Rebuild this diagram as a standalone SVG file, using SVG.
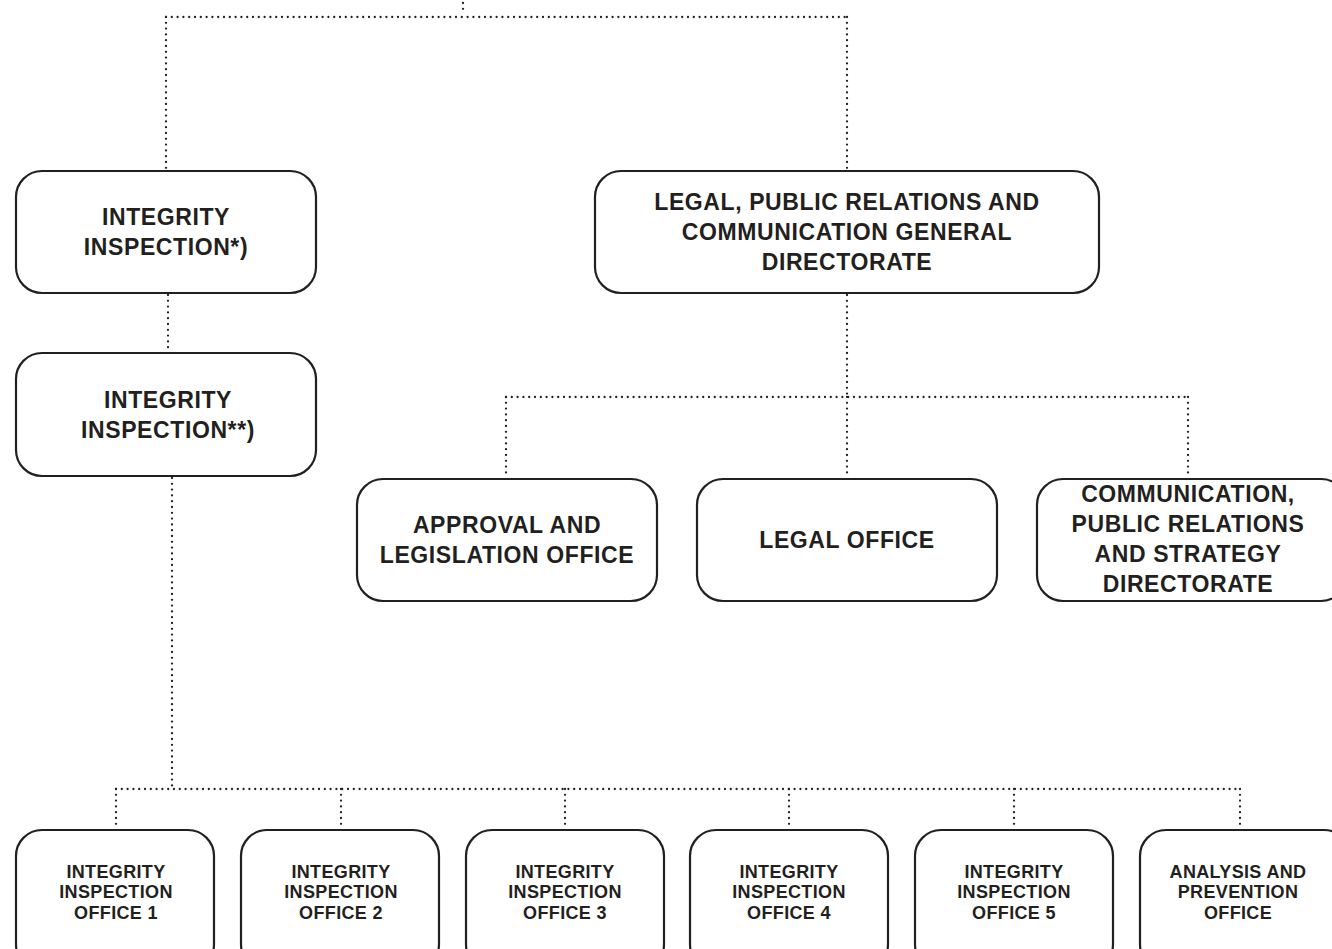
<svg xmlns="http://www.w3.org/2000/svg" width="1332" height="949" viewBox="0 0 1332 949">
<style>
.box{fill:#fff;stroke:#231f20;stroke-width:2.2}
.dot{fill:none;stroke:#231f20;stroke-width:2.3;stroke-linecap:round;stroke-dasharray:0 5.8}
.t{font-family:"Liberation Sans",Arial,sans-serif;font-weight:bold;fill:#231f20;text-anchor:middle}
.l{font-size:23px;letter-spacing:0.6px}
.s{font-size:18px;letter-spacing:0.35px}
</style>
<rect width="1332" height="949" fill="#fff"/>
<g id="connectors">
<path class="dot" d="M463 3V12"/>
<path class="dot" d="M166 17H847"/>
<path class="dot" d="M166 17V170"/>
<path class="dot" d="M847 17V171"/>
<path class="dot" d="M168 295V352"/>
<path class="dot" d="M847 295V397"/>
<path class="dot" d="M506 397H1188"/>
<path class="dot" d="M506 397V478"/>
<path class="dot" d="M847 397V478"/>
<path class="dot" d="M1188 397V478"/>
<path class="dot" d="M172 478V789"/>
<path class="dot" d="M116 789H1240"/>
<path class="dot" d="M116 789V829"/>
<path class="dot" d="M341 789V829"/>
<path class="dot" d="M565 789V829"/>
<path class="dot" d="M789 789V829"/>
<path class="dot" d="M1014 789V829"/>
<path class="dot" d="M1240 789V829"/>
</g>
<g id="n1"><rect class="box" x="16" y="171" width="300" height="122" rx="26"/>
<text class="t l" x="166" y="225">INTEGRITY</text><text class="t l" x="166" y="255">INSPECTION*)</text></g>
<g id="n2"><rect class="box" x="16" y="353" width="300" height="123" rx="26"/>
<text class="t l" x="168" y="408">INTEGRITY</text><text class="t l" x="168" y="438">INSPECTION**)</text></g>
<g id="n3"><rect class="box" x="595" y="171" width="504" height="122" rx="26"/>
<text class="t l" x="847" y="210">LEGAL, PUBLIC RELATIONS AND</text><text class="t l" x="847" y="240">COMMUNICATION GENERAL</text><text class="t l" x="847" y="270">DIRECTORATE</text></g>
<g id="n4"><rect class="box" x="357" y="479" width="300" height="122" rx="26"/>
<text class="t l" x="507" y="533">APPROVAL AND</text><text class="t l" x="507" y="563">LEGISLATION OFFICE</text></g>
<g id="n5"><rect class="box" x="697" y="479" width="300" height="122" rx="26"/>
<text class="t l" x="847" y="548">LEGAL OFFICE</text></g>
<g id="n6"><rect class="box" x="1037" y="479" width="310" height="122" rx="26"/>
<text class="t l" x="1188" y="502">COMMUNICATION,</text><text class="t l" x="1188" y="532">PUBLIC RELATIONS</text><text class="t l" x="1188" y="562">AND STRATEGY</text><text class="t l" x="1188" y="592">DIRECTORATE</text></g>
<g id="n7"><rect class="box" x="16" y="830" width="198" height="140" rx="26"/>
<text class="t s" x="116" y="878">INTEGRITY</text><text class="t s" x="116" y="898">INSPECTION</text><text class="t s" x="116" y="919">OFFICE 1</text></g>
<g id="n8"><rect class="box" x="241" y="830" width="198" height="140" rx="26"/>
<text class="t s" x="341" y="878">INTEGRITY</text><text class="t s" x="341" y="898">INSPECTION</text><text class="t s" x="341" y="919">OFFICE 2</text></g>
<g id="n9"><rect class="box" x="466" y="830" width="198" height="140" rx="26"/>
<text class="t s" x="565" y="878">INTEGRITY</text><text class="t s" x="565" y="898">INSPECTION</text><text class="t s" x="565" y="919">OFFICE 3</text></g>
<g id="n10"><rect class="box" x="690" y="830" width="198" height="140" rx="26"/>
<text class="t s" x="789" y="878">INTEGRITY</text><text class="t s" x="789" y="898">INSPECTION</text><text class="t s" x="789" y="919">OFFICE 4</text></g>
<g id="n11"><rect class="box" x="915" y="830" width="198" height="140" rx="26"/>
<text class="t s" x="1014" y="878">INTEGRITY</text><text class="t s" x="1014" y="898">INSPECTION</text><text class="t s" x="1014" y="919">OFFICE 5</text></g>
<g id="n12"><rect class="box" x="1140" y="830" width="210" height="140" rx="26"/>
<text class="t s" x="1238" y="878">ANALYSIS AND</text><text class="t s" x="1238" y="898">PREVENTION</text><text class="t s" x="1238" y="919">OFFICE</text></g>
</svg>
